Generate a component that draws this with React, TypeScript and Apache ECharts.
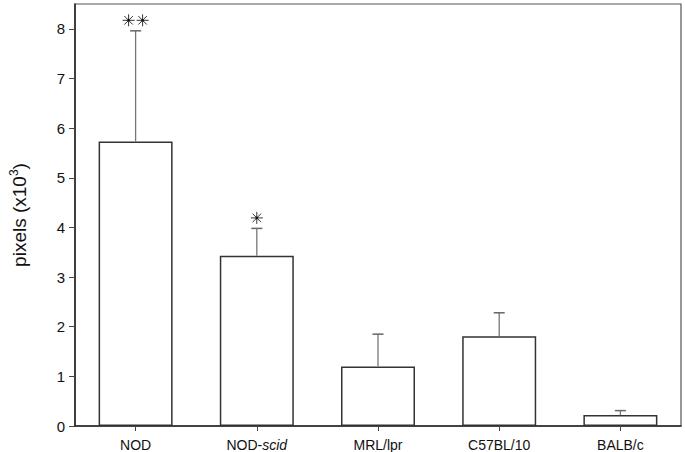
import React, { useEffect, useRef } from "react";
import * as echarts from "echarts";

const categories = ["NOD", "NOD-scid", "MRL/lpr", "C57BL/10", "BALB/c"];
const means = [5.73, 3.43, 1.2, 1.81, 0.22];
const errors = [2.23, 0.55, 0.65, 0.47, 0.09];
const significance = [2, 1, 0, 0, 0];
const yTicks = [0, 1, 2, 3, 4, 5, 6, 7, 8];

const FONT = "'Liberation Sans', Arial, Helvetica, sans-serif";

export default function App() {
  const ref = useRef<HTMLDivElement>(null);
  useEffect(() => {
    if (!ref.current) return;
    const chart = echarts.init(ref.current, undefined, { renderer: "svg" });
    const errData = categories.map((_, i) => [i, means[i], errors[i], significance[i]]);
    chart.setOption({
      animation: false,
      backgroundColor: "#ffffff",
      grid: {
        left: 68,
        right: 4,
        top: 4,
        bottom: 26,
        show: true,
        borderColor: "#555",
        borderWidth: 1.2,
      },
      xAxis: {
        type: "category",
        data: categories,
        axisLine: { show: true, lineStyle: { color: "#222", width: 1.5 } },
        axisTick: { show: true, alignWithLabel: true, length: 5, lineStyle: { color: "#444" } },
        axisLabel: {
          margin: 12,
          fontSize: 14,
          fontFamily: FONT,
          color: "#111",
          formatter: (v: string) => (v === "NOD-scid" ? "NOD-{i|scid}" : v),
          rich: {
            i: { fontStyle: "italic", fontSize: 14, fontFamily: FONT, color: "#111" },
          },
        },
        splitLine: { show: false },
      },
      yAxis: {
        type: "value",
        min: 0,
        max: 8.5,
        interval: 1,
        axisLine: { show: true, lineStyle: { color: "#222", width: 1.5 } },
        axisTick: { show: true, length: 6, lineStyle: { color: "#444" }, customValues: yTicks },
        axisLabel: {
          margin: 10,
          fontSize: 15,
          fontFamily: FONT,
          color: "#111",
          customValues: yTicks,
        },
        splitLine: { show: false },
        name: "{a|pixels (x10}{s|3}{a|)}",
        nameLocation: "middle",
        nameRotate: 90,
        nameGap: 45,
        nameTextStyle: {
          rich: {
            a: { fontSize: 19, fontFamily: FONT, color: "#111", lineHeight: 22 },
            s: { fontSize: 12, fontFamily: FONT, color: "#111", lineHeight: 22, verticalAlign: "top" },
          },
        },
      },
      series: [
        {
          type: "bar",
          data: means,
          barWidth: 74,
          itemStyle: { color: "#ffffff", borderColor: "#333", borderWidth: 1.5 },
          z: 2,
        },
        {
          type: "custom",
          data: errData,
          z: 3,
          renderItem: (params: any, api: any) => {
            const i = api.value(0);
            const m = api.value(1);
            const e = api.value(2);
            const n = api.value(3);
            const base = api.coord([i, m]);
            const top = api.coord([i, m + e]);
            const children: any[] = [
              {
                type: "line",
                shape: { x1: base[0], y1: base[1], x2: top[0], y2: top[1] },
                style: { stroke: "#777", lineWidth: 1.3 },
              },
              {
                type: "line",
                shape: { x1: top[0] - 5.5, y1: top[1], x2: top[0] + 5.5, y2: top[1] },
                style: { stroke: "#666", lineWidth: 1.5 },
              },
            ];
            const r = 6;
            const d = r * Math.SQRT1_2;
            for (let k = 0; k < n; k++) {
              const cx = top[0] + (k - (n - 1) / 2) * 14;
              const cy = top[1] - 10.5;
              const segs = [
                [-r, 0, r, 0],
                [0, -r, 0, r],
                [-d, -d, d, d],
                [-d, d, d, -d],
              ];
              segs.forEach((s) =>
                children.push({
                  type: "line",
                  shape: { x1: cx + s[0], y1: cy + s[1], x2: cx + s[2], y2: cy + s[3] },
                  style: { stroke: "#333", lineWidth: 1 },
                })
              );
              children.push({
                type: "circle",
                shape: { cx, cy, r: 1.3 },
                style: { fill: "#111" },
              });
            }
            return { type: "group", children };
          },
        },
      ],
    });
    return () => chart.dispose();
  }, []);
  return (
    <div
      ref={ref}
      style={{ position: "fixed", left: 0, top: 0, width: 685, height: 452, background: "#fff" }}
    />
  );
}
